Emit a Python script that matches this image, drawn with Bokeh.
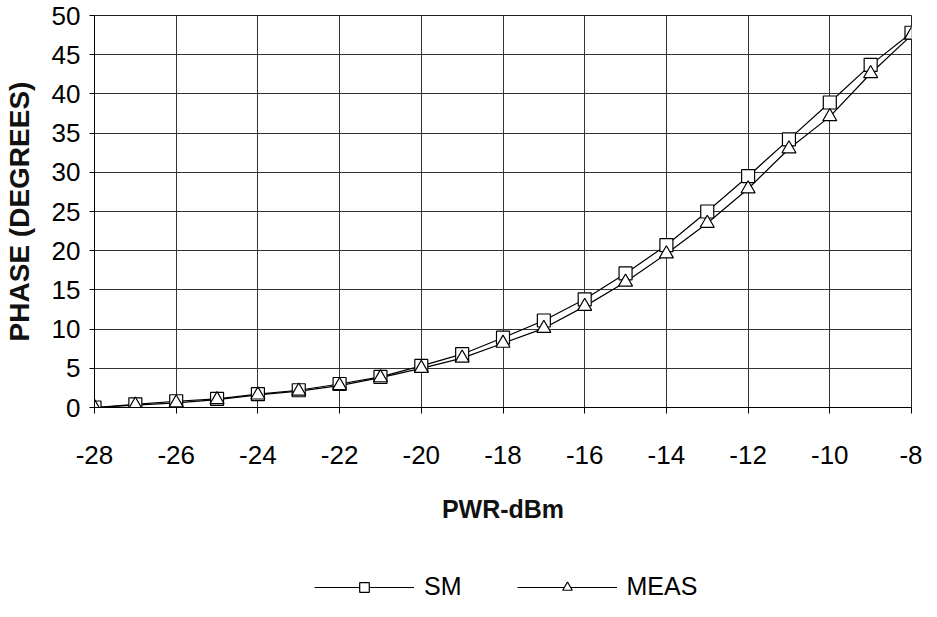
from bokeh.plotting import figure
from bokeh.models import Legend, LegendItem, FixedTicker, Range1d
from bokeh.layouts import column
from bokeh.embed import file_html
from bokeh.resources import INLINE

# Data
power_dbm = [-28, -27, -26, -25, -24, -23, -22, -21, -20, -19, -18,
             -17, -16, -15, -14, -13, -12, -11, -10, -9, -8]
sm_phase = [0.0, 0.4, 0.8, 1.1, 1.7, 2.2, 3.0, 3.9, 5.3, 6.8, 8.9,
            11.1, 13.8, 17.1, 20.7, 25.0, 29.5, 34.2, 38.9, 43.7, 47.8]
meas_phase = [0.0, 0.3, 0.6, 1.0, 1.6, 2.1, 2.8, 3.8, 5.0, 6.3, 8.2,
              10.1, 12.9, 16.0, 19.6, 23.5, 27.9, 33.0, 37.1, 42.6, 47.5]
x_ticks = [-28, -26, -24, -22, -20, -18, -16, -14, -12, -10, -8]
y_ticks = [0, 5, 10, 15, 20, 25, 30, 35, 40, 45, 50]
series_names = ["SM", "MEAS"]

FONT = "Liberation Sans"

p = figure(frame_width=817, frame_height=392,
           x_range=Range1d(-28, -8), y_range=Range1d(0, 50),
           output_backend="svg", toolbar_location=None,
           min_border_left=93, min_border_right=11,
           min_border_top=15, min_border_bottom=120)

p.background_fill_color = "white"
p.border_fill_color = "white"
p.outline_line_color = "#222222"
p.outline_line_width = 1

for g in (p.xgrid, p.ygrid):
    g.grid_line_color = "#333333"
    g.grid_line_width = 1
p.xaxis.ticker = FixedTicker(ticks=x_ticks)
p.yaxis.ticker = FixedTicker(ticks=y_ticks)
p.xaxis.major_label_overrides = {t: str(t) for t in x_ticks}

for ax in (p.xaxis, p.yaxis):
    ax.axis_line_color = "black"
    ax.major_tick_line_color = "black"
    ax.major_tick_in = 0
    ax.minor_tick_line_color = None
    ax.major_label_text_font = FONT
    ax.major_label_text_font_size = "26px"
    ax.major_label_text_color = "black"
    ax.axis_label_text_font = FONT
    ax.axis_label_text_font_style = "bold"
    ax.axis_label_text_color = "#111111"

p.xaxis.major_tick_out = 6
p.yaxis.major_tick_out = 5
p.xaxis.major_label_standoff = 32
p.yaxis.major_label_standoff = 9

p.xaxis.axis_label = "PWR-dBm"
p.xaxis.axis_label_text_font_size = "25px"
p.xaxis.axis_label_standoff = 28
p.yaxis.axis_label = "PHASE (DEGREES)"
p.yaxis.axis_label_text_font_size = "28px"
p.yaxis.axis_label_standoff = 14

line_style = dict(line_color="black", line_width=1.2)
sq_style = dict(marker="square", size=13, fill_color="white",
                line_color="black", line_width=1.2)
tri_style = dict(marker="triangle", size=14, fill_color="white",
                 line_color="black", line_width=1.2)

p.line(power_dbm, sm_phase, **line_style)
p.line(power_dbm, meas_phase, **line_style)
p.scatter(power_dbm, sm_phase, **sq_style)
p.scatter(power_dbm, meas_phase, **tri_style)

# Separate strip below the chart that carries the legend; its ranges keep
# the series themselves out of view, so only the legend samples show.
leg = figure(width=921, height=74, x_range=Range1d(0, 1), y_range=Range1d(0, 1),
             output_backend="svg", toolbar_location=None,
             x_axis_location=None, y_axis_location=None, min_border=0)
leg.grid.visible = False
leg.outline_line_color = None
leg.background_fill_color = "white"
leg.border_fill_color = "white"

l1 = leg.line(power_dbm, sm_phase, **line_style)
m1 = leg.scatter(power_dbm, sm_phase, **sq_style)
l2 = leg.line(power_dbm, meas_phase, **line_style)
m2 = leg.scatter(power_dbm, meas_phase, **tri_style)

legend = Legend(items=[LegendItem(label=series_names[0], renderers=[l1, m1]),
                       LegendItem(label=series_names[1], renderers=[l2, m2])],
                orientation="horizontal", location=(220, 0),
                glyph_width=100, glyph_height=24, label_standoff=10,
                spacing=55, border_line_color=None,
                background_fill_alpha=0,
                label_text_font=FONT, label_text_font_size="25px",
                label_text_color="black", margin=0, padding=0)
leg.add_layout(legend, "center")

layout = column(p, leg, spacing=0)
open("out.html", "w").write(file_html(layout, INLINE))
